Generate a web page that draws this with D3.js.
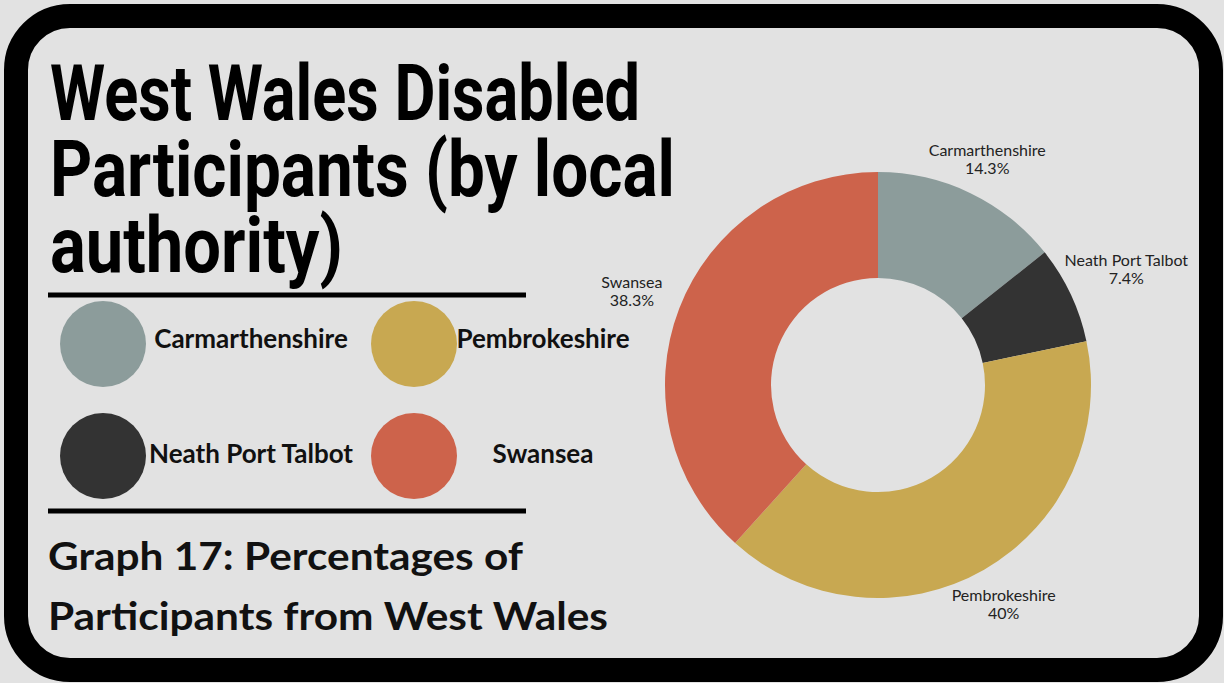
<!DOCTYPE html>
<html>
<head>
<meta charset="utf-8">
<script src="https://cdn.jsdelivr.net/npm/d3@7"></script>
<style>
  html, body { margin: 0; padding: 0; background: #e2e2e2; }
  svg { display: block; }
</style>
</head>
<body>
<svg id="chart" width="1224" height="683"></svg>
<script>
// ---- data ----
const categories = ["Carmarthenshire", "Neath Port Talbot", "Pembrokeshire", "Swansea"];
const values = [14.3, 7.4, 40, 38.3];
const valueLabels = ["14.3%", "7.4%", "40%", "38.3%"];
const colors = ["#8c9c9b", "#333333", "#c8a851", "#cd634b"];
const titleLines = ["West Wales Disabled", "Participants (by local", "authority)"];
const subtitleLines = ["Graph 17: Percentages of", "Participants from West Wales"];
const legendOrder = [0, 2, 1, 3]; // reading order in 2x2 grid

const W = 1224, H = 683;
const svg = d3.select("#chart");

// background
svg.append("rect").attr("width", W).attr("height", H).attr("fill", "#e2e2e2");

// frame
svg.append("rect")
  .attr("x", 16).attr("y", 16).attr("width", 1195).attr("height", 654)
  .attr("rx", 54).attr("ry", 54)
  .attr("fill", "none").attr("stroke", "#000").attr("stroke-width", 24);

// ---- title ----
const titleWidths = [590, 625, 293];
const title = svg.append("g");
titleLines.forEach((t, i) => {
  title.append("text")
    .attr("x", 50).attr("y", 120 + i * 76)
    .attr("font-family", "Roboto, 'DejaVu Sans Condensed', sans-serif")
    .attr("font-weight", "bold")
    .attr("font-size", 77)
    .attr("textLength", titleWidths[i])
    .attr("lengthAdjust", "spacingAndGlyphs")
    .attr("fill", "#000")
    .text(t);
});

// rules
[295, 511].forEach(y => {
  svg.append("line").attr("x1", 48).attr("x2", 526).attr("y1", y).attr("y2", y)
    .attr("stroke", "#000").attr("stroke-width", 5);
});

// ---- legend ----
const legX = d3.scalePoint().domain([0, 1]).range([103, 414]);
const legY = d3.scalePoint().domain([0, 1]).range([344, 456]);
const legTextX = [251, 543];
const legend = svg.append("g");
legendOrder.forEach((ci, k) => {
  const col = k % 2, row = Math.floor(k / 2);
  legend.append("circle")
    .attr("cx", legX(col)).attr("cy", legY(row)).attr("r", 43)
    .attr("fill", colors[ci]);
  legend.append("text")
    .attr("x", legTextX[col]).attr("y", legY(row) + 4 + row * 3)
    .attr("text-anchor", "middle")
    .attr("font-family", "Lato, sans-serif")
    .attr("font-weight", "bold")
    .attr("font-size", 26)
    .attr("fill", "#111")
    .text(categories[ci]);
});

// ---- subtitle ----
const subtitleWidths = [475, 560];
subtitleLines.forEach((t, i) => {
  svg.append("text")
    .attr("x", 48).attr("y", 570 + i * 60)
    .attr("font-family", "Lato, sans-serif")
    .attr("font-weight", "bold")
    .attr("font-size", 39)
    .attr("textLength", subtitleWidths[i])
    .attr("lengthAdjust", "spacingAndGlyphs")
    .attr("fill", "#111")
    .text(t);
});

// ---- donut ----
const cx = 878, cy = 385, R = 213, r0 = 107;
const pie = d3.pie().sort(null).value(d => d)(values);
const arc = d3.arc().innerRadius(r0).outerRadius(R);
const g = svg.append("g").attr("transform", `translate(${cx},${cy})`);
g.selectAll("path").data(pie).join("path")
  .attr("d", arc)
  .attr("fill", (d, i) => colors[i]);

// labels
const labelR = 231;
const lw = 16, lh = 18;
pie.forEach((d, i) => {
  const a = (d.startAngle + d.endAngle) / 2;
  const dx = Math.sin(a), dy = -Math.cos(a);
  const t = g.append("text")
    .attr("text-anchor", "middle")
    .attr("font-family", "Lato, sans-serif")
    .attr("font-size", lw)
    .attr("fill", "#222");
  t.append("tspan").attr("x", 0).attr("dy", 0).text(categories[i]);
  t.append("tspan").attr("x", 0).attr("dy", lh).text(valueLabels[i]);
  const bb = t.node().getBBox();
  const hw = bb.width / 2, hh = bb.height / 2;
  const dist = Math.min(Math.abs(dx) > 1e-6 ? hw / Math.abs(dx) : Infinity,
                        Math.abs(dy) > 1e-6 ? hh / Math.abs(dy) : Infinity);
  const px = (labelR + dist) * dx, py = (labelR + dist) * dy;
  const bcy = bb.y + hh;
  t.attr("transform", `translate(${px},${py - bcy})`);
});
</script>
</body>
</html>
